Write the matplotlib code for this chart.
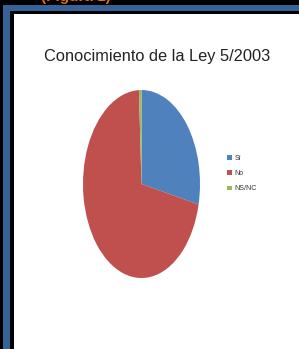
import matplotlib

matplotlib.use("Agg")
import matplotlib.pyplot as plt
from matplotlib.patches import Rectangle

labels = ["Sí", "No", "NS/NC"]
values = [28.5, 70.8, 0.7]
colors = ["#4F81BD", "#C0504D", "#9BBB59"]
title = "Conocimiento de la Ley 5/2003"
caption = "(Figura 1)"

W, H = 299, 349
fig = plt.figure(figsize=(W / 100, H / 100), dpi=100, facecolor="black")


def px_rect(x0, y0, x1, y1, color):
    # pixel coords from top-left
    fig.patches.append(
        Rectangle((x0 / W, 1 - y1 / H), (x1 - x0) / W, (y1 - y0) / H,
                  transform=fig.transFigure, facecolor=color, edgecolor="none", zorder=0)
    )


frame_blue = "#36629A"
px_rect(3, 5, W, 11, frame_blue)
px_rect(3, 5, 10, H, frame_blue)
px_rect(14, 14, W, H, "white")

fig.text(76 / W, 1 + 3 / H, caption, color="#E36C0A", fontsize=11, fontweight="bold",
         ha="center", va="center", family="Liberation Sans", zorder=3)

fig.text(157 / W, 1 - 57 / H, title, color="#222222", fontsize=11.8,
         ha="center", va="center", family="Liberation Sans", zorder=3)

ax = fig.add_axes([83 / W, 1 - 278 / H, 117 / W, 188 / H])
ax.set_zorder(2)
wedges, _ = ax.pie(values, colors=colors, startangle=90, counterclock=False,
                   wedgeprops=dict(linewidth=0))
ax.set_aspect("auto")
ax.set_xlim(-1, 1)
ax.set_ylim(-1, 1)
ax.axis("off")

leg = fig.legend(wedges, labels, loc="upper left", bbox_to_anchor=(224 / W, 1 - 152 / H),
                 frameon=False, fontsize=5, handlelength=0.7, handleheight=0.7,
                 handletextpad=0.4, labelspacing=1.2, borderaxespad=0,
                 prop={"family": "Liberation Sans", "size": 5})
leg.set_zorder(3)
for t in leg.get_texts():
    t.set_color("#333333")

fig.savefig("out.png", dpi=100, facecolor="black")
